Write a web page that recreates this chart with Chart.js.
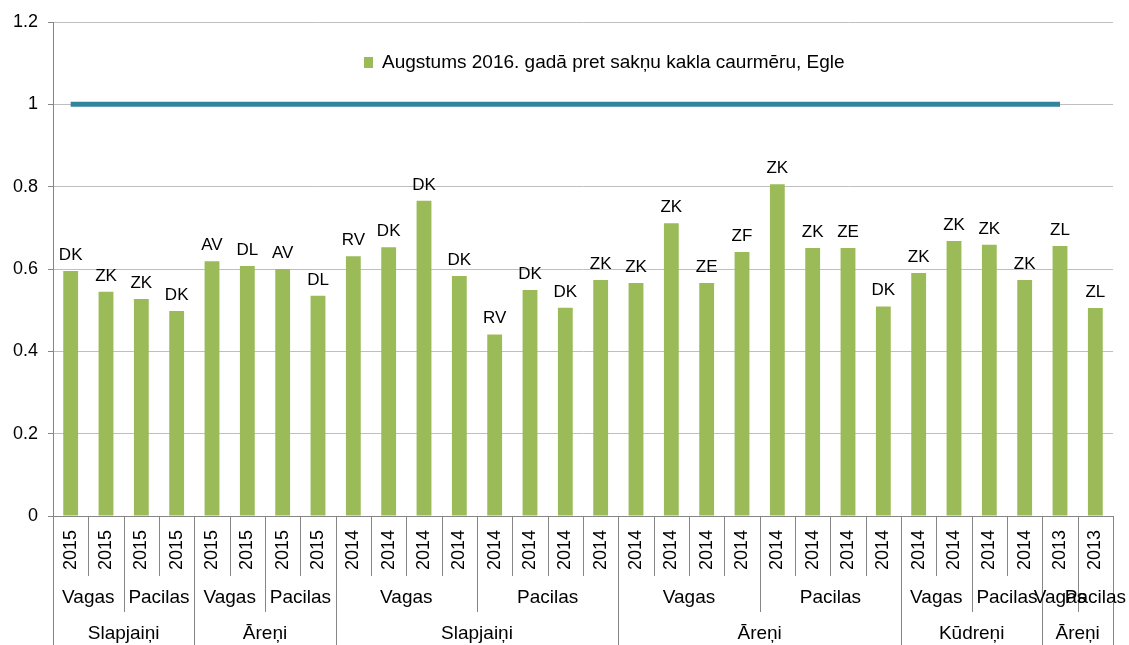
<!DOCTYPE html>
<html>
<head>
<meta charset="utf-8">
<script src="https://cdn.jsdelivr.net/npm/chart.js@4/dist/chart.umd.min.js"></script>
<style>
  body { margin: 0; background: #fff; }
  #wrap { width: 1129px; height: 645px; position: relative; }
</style>
</head>
<body>
<div id="wrap"><canvas id="chart"></canvas></div>
<script>
// data
var years = ['2015','2015','2015','2015','2015','2015','2015','2015',
  '2014','2014','2014','2014','2014','2014','2014','2014',
  '2014','2014','2014','2014','2014','2014','2014','2014',
  '2014','2014','2014','2014','2013','2013'];
var plots = ['Vagas','Vagas','Pacilas','Pacilas','Vagas','Vagas','Pacilas','Pacilas',
  'Vagas','Vagas','Vagas','Vagas','Pacilas','Pacilas','Pacilas','Pacilas',
  'Vagas','Vagas','Vagas','Vagas','Pacilas','Pacilas','Pacilas','Pacilas',
  'Vagas','Vagas','Pacilas','Pacilas','Vagas','Pacilas'];
var sites = ['Slapjaiņi','Slapjaiņi','Slapjaiņi','Slapjaiņi','Āreņi','Āreņi','Āreņi','Āreņi',
  'Slapjaiņi','Slapjaiņi','Slapjaiņi','Slapjaiņi','Slapjaiņi','Slapjaiņi','Slapjaiņi','Slapjaiņi',
  'Āreņi','Āreņi','Āreņi','Āreņi','Āreņi','Āreņi','Āreņi','Āreņi',
  'Kūdreņi','Kūdreņi','Kūdreņi','Kūdreņi','Āreņi','Āreņi'];
var ratio = [0.595, 0.545, 0.527, 0.498, 0.619, 0.607, 0.600, 0.535,
  0.631, 0.653, 0.766, 0.583, 0.441, 0.549, 0.506, 0.573,
  0.566, 0.711, 0.566, 0.641, 0.806, 0.651, 0.651, 0.509,
  0.590, 0.668, 0.659, 0.573, 0.656, 0.505];
var codes = ['DK','ZK','ZK','DK','AV','DL','AV','DL',
  'RV','DK','DK','DK','RV','DK','DK','ZK',
  'ZK','ZK','ZE','ZF','ZK','ZK','ZE','DK',
  'ZK','ZK','ZK','ZK','ZL','ZL'];
var refLine = [1,1,1,1,1,1,1,1,1,1,1,1,1,1,1,1,1,1,1,1,1,1,1,1,1,1,1,1,1,null];
var yTicks = [0, 0.2, 0.4, 0.6, 0.8, 1, 1.2];
var seriesName = 'Augstums 2016. gadā pret sakņu kakla caurmēru, Egle';

var FONT = '"Liberation Sans", Arial, sans-serif';
var GREEN = '#9bbb59';
var AXIS = '#868686';

var barLabels = {
  id: 'barLabels',
  afterDatasetsDraw: function (chart) {
    var ctx = chart.ctx;
    var meta = chart.getDatasetMeta(1);
    ctx.save();
    ctx.font = '17px ' + FONT;
    ctx.fillStyle = '#000';
    ctx.textAlign = 'center';
    ctx.textBaseline = 'alphabetic';
    meta.data.forEach(function (bar, i) {
      ctx.fillText(codes[i], bar.x, bar.y - 11);
    });
    ctx.restore();
  }
};

var multiAxis = {
  id: 'multiAxis',
  afterDraw: function (chart) {
    var ctx = chart.ctx;
    var xs = chart.scales.x;
    var top = chart.chartArea.bottom;
    var n = years.length;
    var w = xs.getPixelForValue(1) - xs.getPixelForValue(0);
    var edge = function (i) { return xs.getPixelForValue(0) - w / 2 + i * w; };
    ctx.save();
    ctx.strokeStyle = AXIS;
    ctx.lineWidth = 1;
    for (var i = 0; i <= n; i++) {
      var bottom = 576;
      if (i === 0 || i === n || sites[i] !== sites[i - 1]) bottom = chart.height;
      else if (plots[i] !== plots[i - 1]) bottom = 612;
      var x = Math.round(edge(i)) + 0.5;
      ctx.beginPath();
      ctx.moveTo(x, top);
      ctx.lineTo(x, bottom);
      ctx.stroke();
    }
    ctx.fillStyle = '#000';
    ctx.font = '18px ' + FONT;
    // years, rotated
    for (var j = 0; j < n; j++) {
      ctx.save();
      ctx.translate(xs.getPixelForValue(j), top + 14);
      ctx.rotate(-Math.PI / 2);
      ctx.textAlign = 'right';
      ctx.textBaseline = 'middle';
      ctx.fillText(years[j], 0, 0);
      ctx.restore();
    }
    ctx.font = '19px ' + FONT;
    ctx.textAlign = 'center';
    ctx.textBaseline = 'middle';
    // plot and site groups
    var drawRuns = function (keyFn, text, y) {
      var start = 0;
      for (var k = 1; k <= n; k++) {
        if (k === n || keyFn(k) !== keyFn(k - 1)) {
          ctx.fillText(text[start], (edge(start) + edge(k)) / 2, y);
          start = k;
        }
      }
    };
    drawRuns(function (k) { return sites[k] + '|' + plots[k]; }, plots, 598);
    drawRuns(function (k) { return sites[k]; }, sites, 634);
    ctx.restore();
  }
};

var innerLegend = {
  id: 'innerLegend',
  afterDraw: function (chart) {
    var ctx = chart.ctx;
    var ds = chart.data.datasets[1];
    var x = chart.chartArea.left + 311;
    var y = chart.chartArea.top + 40;
    ctx.save();
    ctx.fillStyle = ds.backgroundColor;
    ctx.fillRect(x, y - 5, 9, 11);
    ctx.fillStyle = '#000';
    ctx.font = '19px ' + FONT;
    ctx.textAlign = 'left';
    ctx.textBaseline = 'middle';
    ctx.fillText(ds.label, x + 18, y + 1);
    ctx.restore();
  }
};

var chart = new Chart(document.getElementById('chart'), {
  type: 'bar',
  data: {
    labels: years,
    datasets: [{
      type: 'line',
      label: 'ref',
      data: refLine,
      borderColor: '#31859c',
      borderWidth: 5,
      pointRadius: 0,
      fill: false
    }, {
      label: seriesName,
      data: ratio,
      backgroundColor: GREEN,
      barPercentage: 0.42,
      categoryPercentage: 1.0
    }]
  },
  options: {
    responsive: true,
    maintainAspectRatio: false,
    animation: false,
    layout: { padding: { top: 22, right: 16, bottom: 0, left: 0 } },
    plugins: {
      legend: { display: false },
      tooltip: { enabled: false }
    },
    scales: {
      x: {
        grid: { display: false },
        border: { display: true, color: AXIS },
        ticks: { display: false },
        afterFit: function (s) { s.height = 129; }
      },
      y: {
        min: 0,
        max: 1.2,
        afterBuildTicks: function (s) {
          s.ticks = yTicks.map(function (v) { return { value: v }; });
        },
        ticks: {
          color: '#000',
          font: { family: FONT, size: 18 },
          padding: 10,
          callback: function (v) { return String(Math.round(v * 10) / 10); }
        },
        grid: { color: '#bfbfbf', tickColor: AXIS, tickLength: 5 },
        border: { color: AXIS },
        afterFit: function (s) { s.width = 53; }
      }
    }
  },
  plugins: [barLabels, multiAxis, innerLegend]
});
</script>
</body>
</html>
